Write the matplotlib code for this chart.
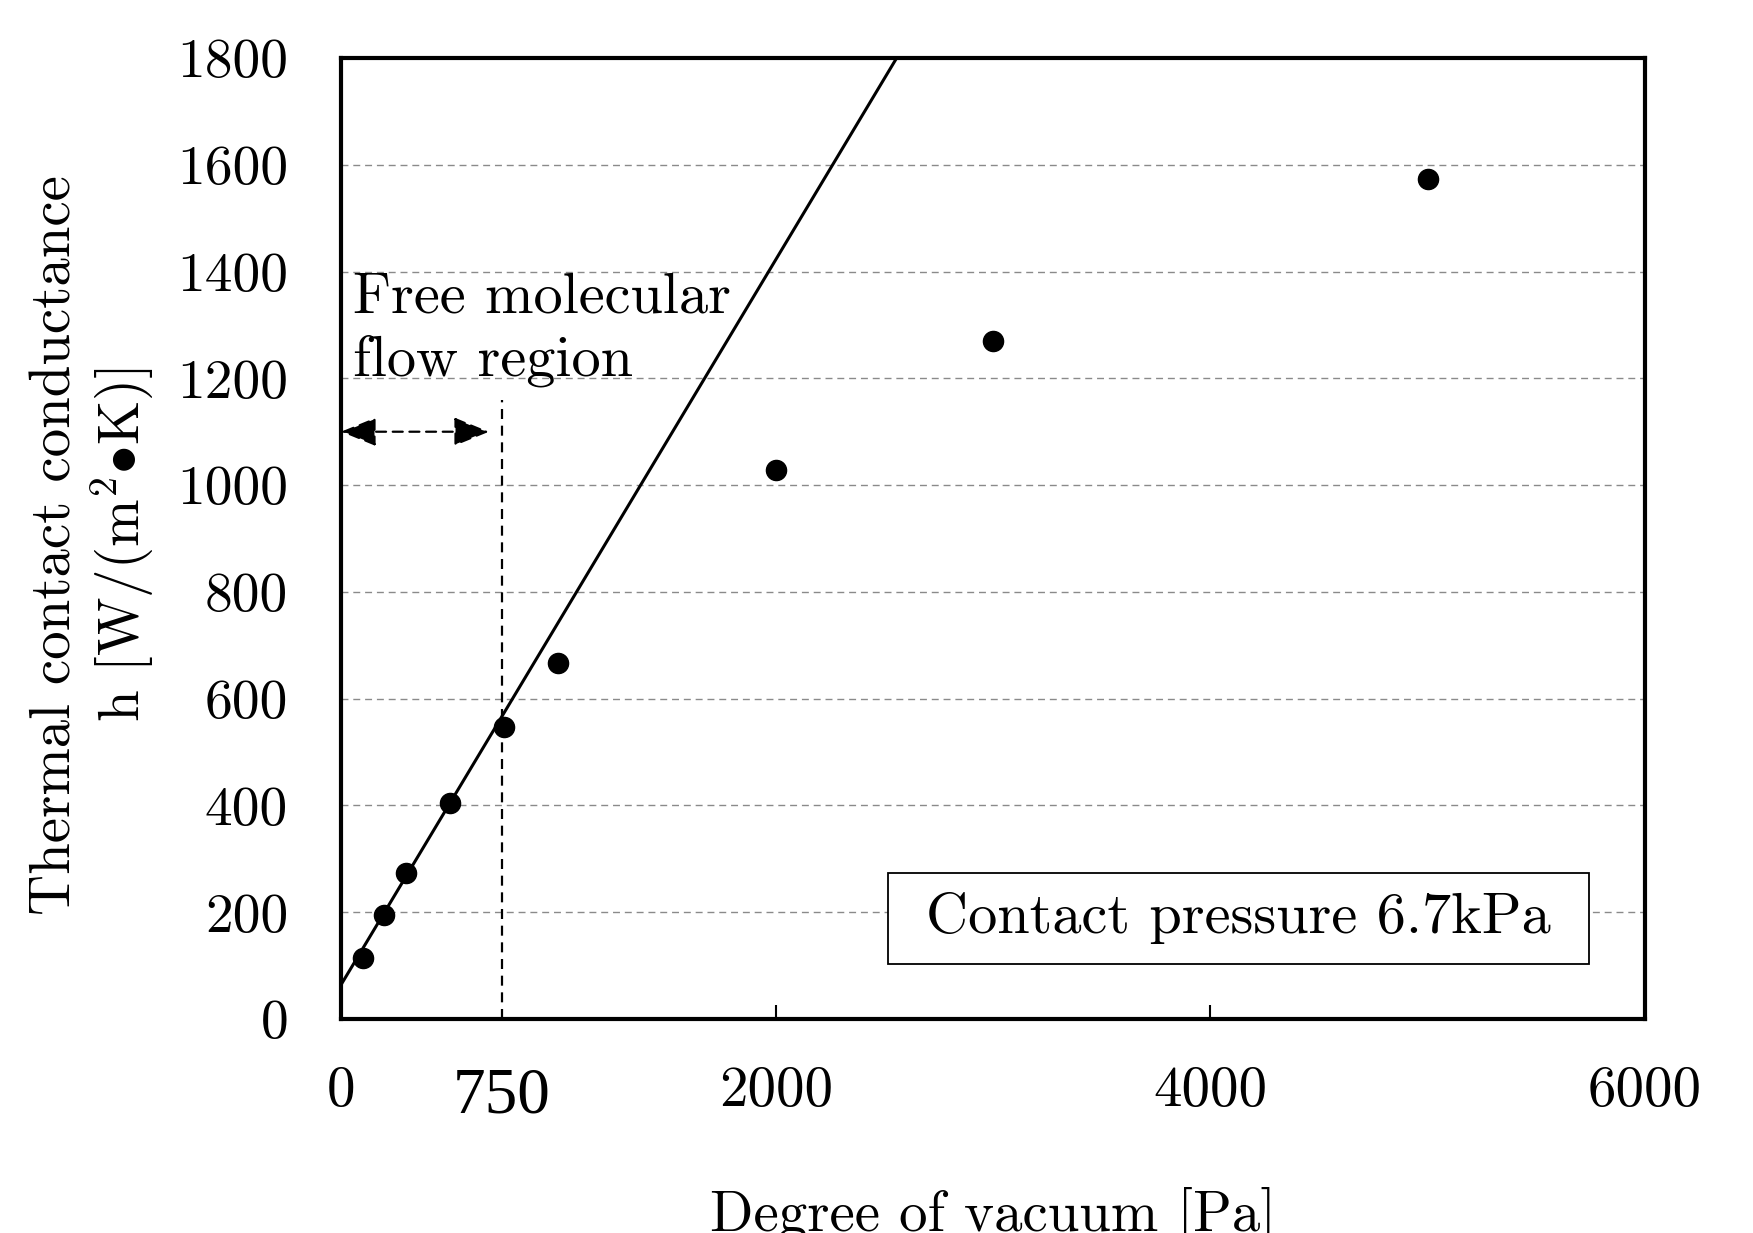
import numpy as np
import matplotlib
matplotlib.use("Agg")
import matplotlib.pyplot as plt
from matplotlib.patches import Rectangle

plt.rcParams['font.family'] = ['cmr10', 'DejaVu Sans']
plt.rcParams['mathtext.fontset'] = 'cm'
plt.rcParams['axes.unicode_minus'] = False
plt.rcParams['axes.formatter.use_mathtext'] = True

# ---- data ----
vacuum_pa = [100, 200, 300, 500, 750, 1000, 2000, 3000, 5000]
conductance = [114, 195, 273, 405, 547, 667, 1029, 1270, 1574]
fit_intercept = 64
fit_slope = 0.679
boundary_pa = 740          # free molecular flow boundary (dashed vertical line)
boundary_top = 1160        # top of dashed vertical line
arrow_y = 1100
arrow_end = 681
x_ticks = [0, 2000, 4000, 6000]
x_ticklabels = ["0", "2000", "4000", "6000"]
y_ticks = [0, 200, 400, 600, 800, 1000, 1200, 1400, 1600, 1800]
y_ticklabels = [str(v) for v in y_ticks]
xlim = (0, 6000)
ylim = (0, 1800)

W, H = 1753, 1233
fig = plt.figure(figsize=(W / 100, H / 100), dpi=100)
ax = fig.add_axes([341 / W, 1 - 1019 / H, (1645 - 341) / W, (1019 - 58) / H])
ax.set_xlim(*xlim)
ax.set_ylim(*ylim)

# grid
ax.set_yticks(y_ticks)
ax.set_yticklabels(y_ticklabels)
ax.set_xticks(x_ticks)
ax.set_xticklabels(x_ticklabels)
ax.yaxis.grid(True, color='#8a8a8a', linestyle=(0, (5, 3.5)), linewidth=1.0)
ax.set_axisbelow(True)

for sp in ax.spines.values():
    sp.set_linewidth(3.0)
    sp.set_color('black')

ax.tick_params(axis='x', direction='in', length=10, width=1.5, pad=34,
               labelsize=41, top=False)
ax.tick_params(axis='y', length=0, pad=38, labelsize=40)

# fit line
xs = np.array(xlim, dtype=float)
ax.plot(xs, fit_intercept + fit_slope * xs, color='black', lw=2.2, zorder=3)

# data points
ax.plot(vacuum_pa, conductance, 'o', color='black', markersize=14.5, zorder=4)

# boundary dashed line
ax.plot([boundary_pa, boundary_pa], [0, boundary_top], color='black', lw=1.6,
        linestyle=(0, (4.5, 3)), zorder=3)

# double arrow
ax.annotate("", xy=(0, arrow_y), xytext=(arrow_end, arrow_y),
            arrowprops=dict(arrowstyle='<|-|>,head_length=1.1,head_width=0.45',
                            color='black', lw=1.6, linestyle=(0, (4.5, 3)),
                            shrinkA=0, shrinkB=0, mutation_scale=20),
            annotation_clip=False)

# region text
ax.text(55, 1324, "Free molecular", fontsize=42, ha='left', va='baseline')
ax.text(55, 1206, "flow region", fontsize=42, ha='left', va='baseline')

# 750 label
ax.text(boundary_pa, -0.05, "750", fontsize=47, ha='center', va='top',
        transform=ax.get_xaxis_transform(), family='Liberation Serif')

# legend-like box
bx0, bx1 = (888 - 341) / 1304, (1589 - 341) / 1304
by0, by1 = (1019 - 964) / 961, (1019 - 873) / 961
ax.add_patch(Rectangle((bx0, by0), bx1 - bx0, by1 - by0, transform=ax.transAxes,
                       facecolor='white', edgecolor='black', lw=1.3, zorder=5))
ax.text((bx0 + bx1) / 2, (by0 + by1) / 2, "Contact pressure 6.7kPa", fontsize=42,
        ha='center', va='center', transform=ax.transAxes, zorder=6)

# axis labels
fig.text(93 / W, 1 - 545 / H,
         "Thermal contact conductance\nh [W/(m$^2$$\\bullet$K)]",
         rotation=90, ha='center', va='center', multialignment='center',
         fontsize=41, linespacing=1.15)
fig.text(993 / W, 2 / H, "Degree of vacuum [Pa]", fontsize=41, ha='center',
         va='baseline')

fig.savefig("out.png", dpi=100)
